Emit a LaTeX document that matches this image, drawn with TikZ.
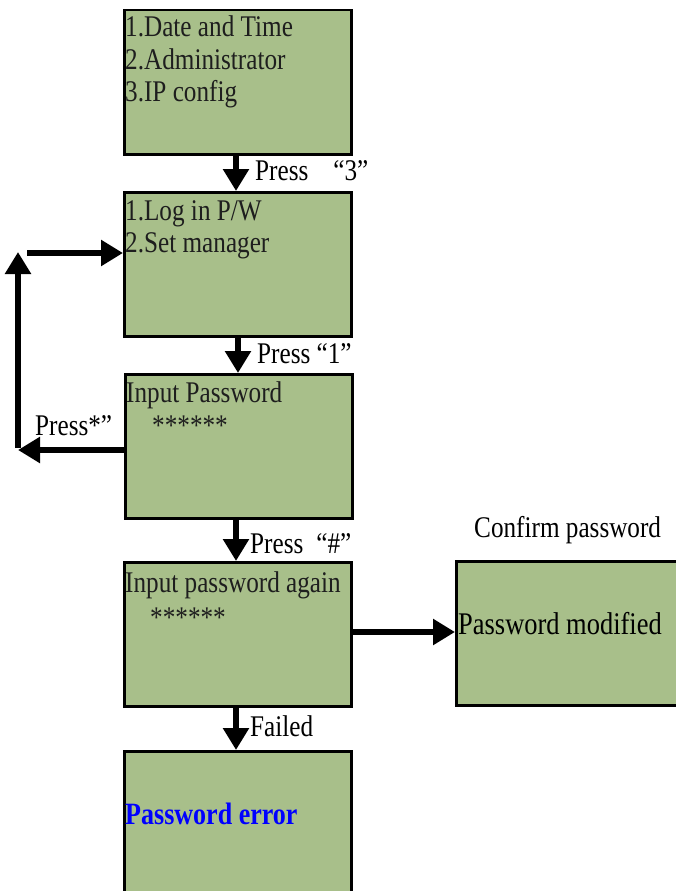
\documentclass[tikz,border=0pt]{standalone}
\usepackage{fontspec}
\setmainfont{Liberation Serif}[FakeStretch=0.84]
\usetikzlibrary{arrows.meta}
\definecolor{boxgreen}{RGB}{168,191,138}
\definecolor{boxtext}{RGB}{30,30,30}
\begin{document}
\begin{tikzpicture}[x=1pt,y=-1pt,
  box/.style={draw=black, line width=2.5pt, fill=boxgreen, anchor=north west, inner sep=0pt},
  txt/.style={anchor=base west, inner sep=0pt, font=\fontsize{30}{36}\selectfont, text=boxtext},
  lbl/.style={anchor=base west, inner sep=0pt, font=\fontsize{30}{36}\selectfont, text=black},
  arr/.style={line width=6.5pt, -{Triangle[width=25pt,length=22pt]}}]
\useasboundingbox (0,0) rectangle (675,891);
% boxes
\node[box, minimum width=227pt, minimum height=144pt] (b1) at (123,9) {};
\node[box, minimum width=227pt, minimum height=144pt] (b2) at (123,191) {};
\node[box, minimum width=227pt, minimum height=144pt] (b3) at (124,373) {};
\node[box, minimum width=227pt, minimum height=144pt] (b4) at (123,561) {};
\node[box, minimum width=225pt, minimum height=144pt] (b5) at (455,560) {};
\node[box, minimum width=227pt, minimum height=146pt] (b6) at (123,750) {};
% box texts
\node[txt] (t1a) at (125,37) {1.Date and Time};
\node[txt] (t1b) at (125,70) {2.Administrator};
\node[txt] (t1c) at (125,101) {3.IP config};
\node[txt] (t2a) at (125,220) {1.Log in P/W};
\node[txt] (t2b) at (125,252) {2.Set manager};
\node[txt] (t3a) at (126,402) {Input Password};
\node[txt] (t3b) at (152,435) {******};
\node[txt] (t4a) at (125,592) {Input password again};
\node[txt] (t4b) at (150,627) {******};
\node[lbl, font=\fontsize{31.5}{36}\selectfont] (t5) at (458,634) {Password modified};
\node[lbl, text=blue, font=\fontsize{31}{36}\selectfont\bfseries] (t6) at (125,824) {Password error};
% labels
\node[lbl] (l1) at (255,180) {Press\hspace{25pt}“3”};
\node[lbl] (l2) at (257,363) {Press “1”};
\node[lbl] (l3) at (250,553) {Press\hspace{13pt}“\#”};
\node[lbl] (l4) at (250,736) {Failed};
\node[lbl] (l5) at (474,537) {Confirm password};
\node[lbl] (l6) at (35,435) {Press*”};
% arrows
\draw[arr] (b1.south -| 236,0) -- (b2.north -| 236,0);
\draw[arr] (b2.south -| 238,0) -- (b3.north -| 238,0);
\draw[arr] (b3.south -| 236,0) -- (b4.north -| 236,0);
\draw[arr] (b4.south -| 236,0) -- (b6.north -| 236,0);
\draw[arr] (b4.east |- 0,632) -- (b5.west |- 0,632);
% loop back
\coordinate (c1) at (18,450);
\coordinate (c2) at (18,448);
\coordinate (c3) at (18,252);
\coordinate (c4) at (27,253);
\draw[arr] (b3.west |- 0,450) -- (c1);
\draw[arr] (c2) -- (c3);
\draw[arr] (c4) -- (b2.west |- 0,253);
\end{tikzpicture}
\end{document}
